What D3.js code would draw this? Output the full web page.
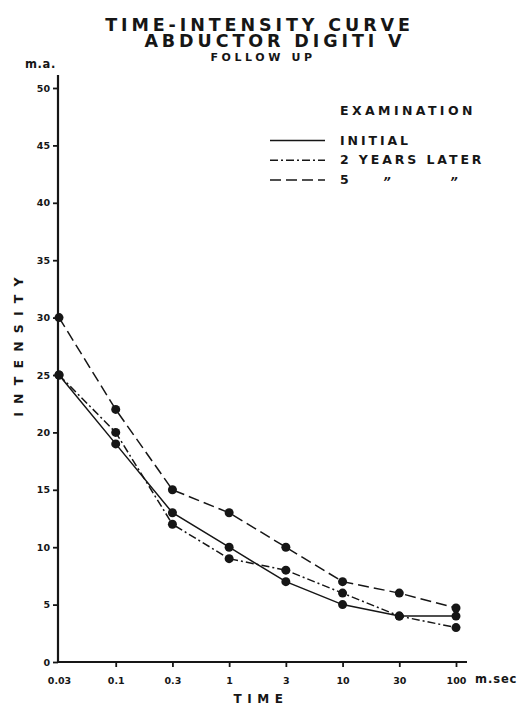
<!DOCTYPE html>
<html>
<head>
<meta charset="utf-8">
<script src="https://cdn.jsdelivr.net/npm/d3@7"></script>
<style>
  html, body { margin: 0; padding: 0; background: #fff; }
  svg text { font-family: "DejaVu Sans", sans-serif; font-weight: bold; fill: #161616; }
</style>
</head>
<body>
<svg id="chart" width="524" height="706"></svg>
<script>
const times = ["0.03", "0.1", "0.3", "1", "3", "10", "30", "100"];
const initialValues = [25, 19, 13, 10, 7, 5, 4, 4];
const twoYearsValues = [25, 20, 12, 9, 8, 6, 4, 3];
const fiveYearsValues = [30, 22, 15, 13, 10, 7, 6, 4.7];
const yTicks = [0, 5, 10, 15, 20, 25, 30, 35, 40, 45, 50];
const seriesNames = ["INITIAL", "2 YEARS LATER", "5"];
const dittoMark = "\u201D";

const svg = d3.select("#chart");
const ink = "#161616";

const x = d3.scalePoint().domain(times).range([59, 456]);
const y = d3.scaleLinear().domain([0, 50]).range([662, 88]);

// Title
svg.append("text").attr("x", 259.5).attr("y", 30.5).attr("text-anchor", "middle")
  .style("font-size", "17.5px").style("letter-spacing", "3.9px").text("TIME-INTENSITY CURVE");
svg.append("text").attr("x", 275).attr("y", 47).attr("text-anchor", "middle")
  .style("font-size", "17.5px").style("letter-spacing", "3.9px").text("ABDUCTOR DIGITI  V");
svg.append("text").attr("x", 263).attr("y", 61).attr("text-anchor", "middle")
  .style("font-size", "11px").style("letter-spacing", "3.6px").text("FOLLOW UP");

// Axes
const yAxis = d3.axisLeft(y).tickValues(yTicks).tickSize(5).tickPadding(3);
const gy = svg.append("g").attr("transform", "translate(58,0)").call(yAxis);
gy.select(".domain").remove();
gy.selectAll(".tick line").attr("stroke", ink).attr("stroke-width", 1.8);
gy.selectAll(".tick text").style("font-size", "9.5px").attr("fill", ink);
svg.append("line").attr("x1", 58).attr("x2", 58).attr("y1", 75).attr("y2", 663)
  .attr("stroke", ink).attr("stroke-width", 2.2);

const xAxis = d3.axisBottom(x).tickSize(5).tickPadding(10);
const gx = svg.append("g").attr("transform", "translate(0,662)").call(xAxis);
gx.select(".domain").remove();
gx.selectAll(".tick line").attr("stroke", ink).attr("stroke-width", 1.8);
gx.selectAll(".tick text").style("font-size", "9.5px").attr("fill", ink);
gx.selectAll(".tick").filter(d => d === "0.03").select("line").remove();
svg.append("line").attr("x1", 57).attr("x2", 467).attr("y1", 662).attr("y2", 662)
  .attr("stroke", ink).attr("stroke-width", 2.2);

svg.append("text").attr("x", 475).attr("y", 683).style("font-size", "11.5px").style("letter-spacing", "0.9px").text("m.sec");
svg.append("text").attr("x", 25).attr("y", 68).style("font-size", "11.5px").style("letter-spacing", "0.6px").text("m.a.");

// Axis titles
svg.append("text").attr("x", 261).attr("y", 703).attr("text-anchor", "middle")
  .style("font-size", "12px").style("letter-spacing", "5.5px").text("TIME");
svg.append("text").attr("transform", "translate(23,343) rotate(-90)").attr("text-anchor", "middle")
  .style("font-size", "12.5px").style("letter-spacing", "8.2px").text("INTENSITY");

// Series
const series = [
  { name: seriesNames[0], values: initialValues, dash: null },
  { name: seriesNames[1], values: twoYearsValues, dash: "8,3,2,3" },
  { name: seriesNames[2], values: fiveYearsValues, dash: "11,5" }
];
const line = d3.line().x((d, i) => x(times[i])).y(d => y(d));

series.forEach(s => {
  svg.append("path").datum(s.values).attr("d", line)
    .attr("fill", "none").attr("stroke", ink).attr("stroke-width", 1.5)
    .attr("stroke-dasharray", s.dash);
});
series.forEach(s => {
  svg.append("g").selectAll("circle").data(s.values).join("circle")
    .attr("cx", (d, i) => x(times[i])).attr("cy", d => y(d)).attr("r", 4.5)
    .attr("fill", ink);
});

// Legend
svg.append("text").attr("x", 340).attr("y", 115).style("font-size", "12.5px").style("letter-spacing", "3.4px").text("EXAMINATION");
series.forEach((s, i) => {
  const ly = 140.5 + i * 19.7;
  svg.append("line").attr("x1", 270).attr("x2", 325).attr("y1", ly).attr("y2", ly)
    .attr("stroke", ink).attr("stroke-width", 1.5).attr("stroke-dasharray", s.dash);
  svg.append("text").attr("x", 340).attr("y", ly + 4).style("font-size", "12.5px").style("letter-spacing", "2.9px")
    .text(s.name);
});
const dittoY = 140.5 + 2 * 19.7 + 6;
[383, 450].forEach(dx => {
  svg.append("text").attr("x", dx).attr("y", dittoY).attr("font-style", "italic")
    .style("font-size", "12px").text(dittoMark);
});
</script>
</body>
</html>
